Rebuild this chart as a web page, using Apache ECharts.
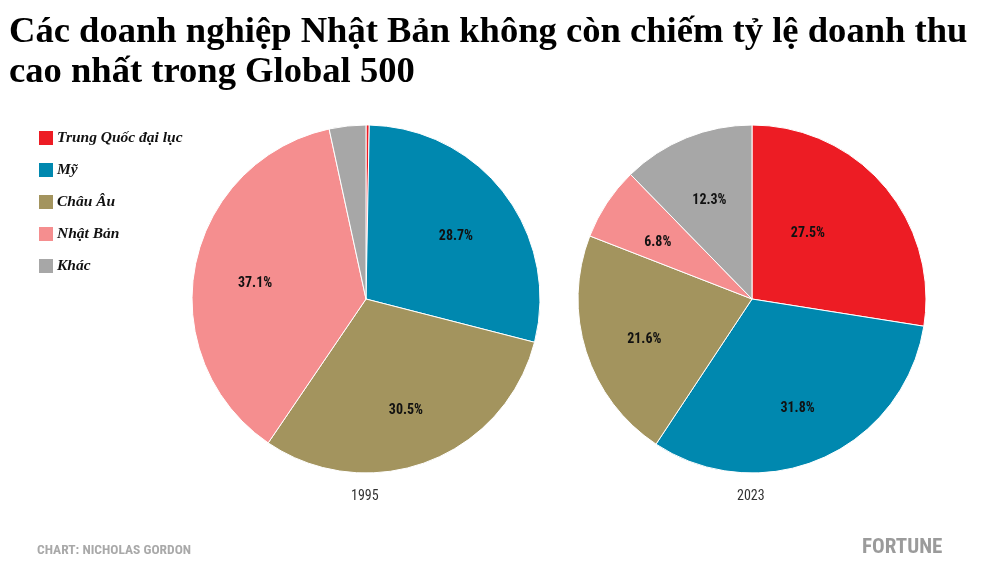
<!DOCTYPE html>
<html>
<head>
<meta charset="utf-8">
<script src="https://cdn.jsdelivr.net/npm/echarts@6/dist/echarts.min.js"></script>
<style>
html,body{margin:0;padding:0;background:#fff;}
#chart{width:1000px;height:586px;}
</style>
</head>
<body>
<div id="chart"></div>
<script>
var categories = ['Trung Quốc đại lục', 'Mỹ', 'Châu Âu', 'Nhật Bản', 'Khác'];
var values1995 = [0.3, 28.7, 30.5, 37.1, 3.4];
var values2023 = [27.5, 31.8, 21.6, 6.8, 12.3];
var years = ['1995', '2023'];
var colors = ['#ED1C24', '#0088AF', '#A3945E', '#F58E8F', '#A7A7A7'];

function toData(vals) {
  return categories.map(function (c, i) { return { name: c, value: vals[i] }; });
}
var labelFont = '"Liberation Sans Narrow", "Roboto Condensed", Roboto, sans-serif';

function pieSeries(vals, cx, tweak) {
  var labelData = toData(vals).map(function (d, i) {
    if (tweak && tweak[i]) { d.label = { offset: tweak[i] }; }
    return d;
  });
  return [{
    type: 'pie',
    center: [cx, 299],
    radius: 174,
    startAngle: 90,
    clockwise: true,
    label: { show: false },
    labelLine: { show: false },
    itemStyle: { borderColor: '#ffffff', borderWidth: 1 },
    emphasis: { disabled: true },
    animation: false,
    data: toData(vals)
  }, {
    type: 'pie',
    center: [cx, 299],
    radius: [46, 174],
    startAngle: 90,
    clockwise: true,
    silent: true,
    itemStyle: { color: 'rgba(0,0,0,0)', borderWidth: 0 },
    label: {
      show: true,
      position: 'inside',
      color: '#111',
      fontFamily: labelFont,
      fontWeight: 'bold',
      fontSize: 14,
      offset: [0, 6],
      formatter: function (p) { return p.value < 4 ? '' : p.value.toFixed(1) + '%'; }
    },
    labelLine: { show: false },
    emphasis: { disabled: true },
    animation: false,
    data: labelData
  }];
}

var chart = echarts.init(document.getElementById('chart'), null, { renderer: 'canvas' });
chart.setOption({
  color: colors,
  title: {
    text: 'Các doanh nghiệp Nhật Bản không còn chiếm tỷ lệ doanh thu\ncao nhất trong Global 500',
    left: 4,
    top: 8,
    textStyle: {
      fontFamily: '"Liberation Serif", "DejaVu Serif", serif',
      fontWeight: 'bold',
      fontSize: 36.6,
      lineHeight: 40,
      color: '#000'
    }
  },
  legend: {
    orient: 'vertical',
    left: 37,
    top: 129,
    padding: 0,
    itemWidth: 16,
    itemHeight: 16,
    itemGap: 14,
    icon: 'rect',
    selectedMode: false,
    data: categories,
    textStyle: {
      fontFamily: '"Liberation Serif", "DejaVu Serif", serif',
      fontStyle: 'italic',
      fontWeight: 'bold',
      fontSize: 15.5,
      lineHeight: 16,
      color: '#111',
      padding: [0, 0, 0, -2]
    }
  },
  graphic: [
    { type: 'text', left: 366 - 15, top: 489, style: { text: years[0], font: '14px ' + labelFont, fill: '#333' } },
    { type: 'text', left: 752 - 15, top: 489, style: { text: years[1], font: '14px ' + labelFont, fill: '#333' } },
    { type: 'text', left: 37, top: 544, style: { text: 'CHART: NICHOLAS GORDON', font: 'bold 13.5px ' + labelFont, fill: '#A9A9A9' } },
    { type: 'text', left: 862, top: 537, style: { text: 'FORTUNE', font: 'bold 21px ' + labelFont, fill: '#9B9B9B' } }
  ],
  series: pieSeries(values1995, 366, null).concat(pieSeries(values2023, 752, [[-30, 8]]))
});
</script>
</body>
</html>
